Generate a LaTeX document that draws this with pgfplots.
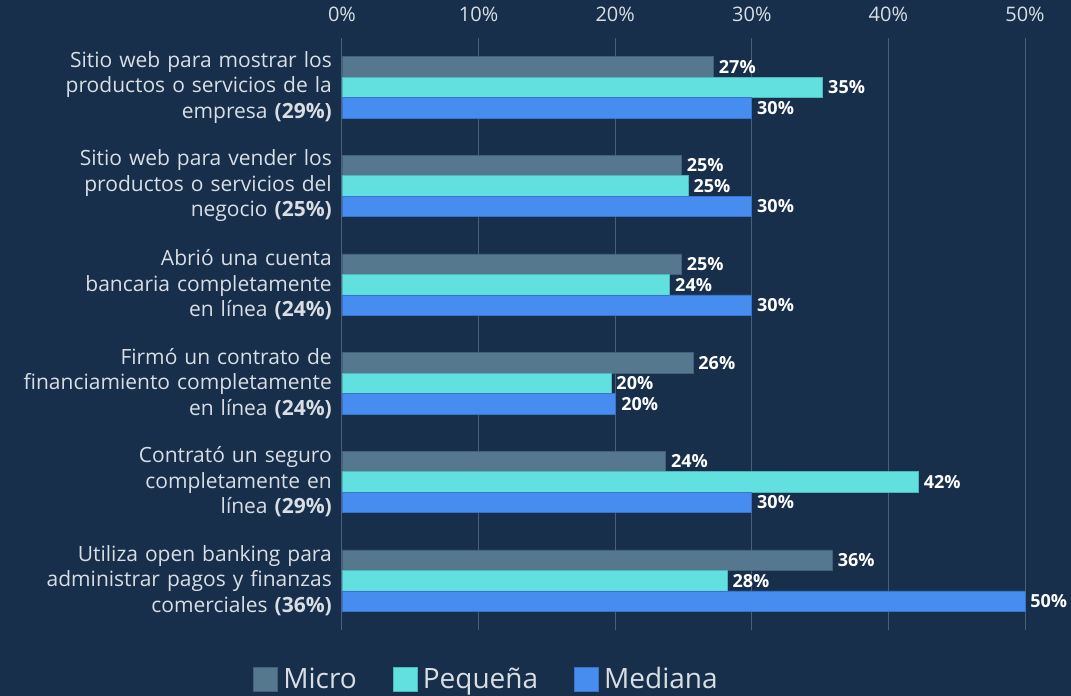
\documentclass[border=0pt]{standalone}
\usepackage{fontspec}
\setmainfont{Open Sans}
\usepackage{pgfplots}
\pgfplotsset{compat=1.18}

\definecolor{bg}{HTML}{172F4B}
\definecolor{gridc}{HTML}{4A5F77}
\definecolor{lbl}{HTML}{D9DEE4}
\definecolor{micro}{HTML}{56788E}
\definecolor{microedge}{HTML}{43627A}
\definecolor{peq}{HTML}{62E0E0}
\definecolor{peqedge}{HTML}{4CB6BC}
\definecolor{med}{HTML}{478DF0}
\definecolor{mededge}{HTML}{3A74C6}

\begin{document}
\begin{tikzpicture}
\path[use as bounding box, fill=bg] (-342pt,-66pt) rectangle (729pt,630pt);
\begin{axis}[
  at={(0,0)}, anchor=south west,
  scale only axis, width=683pt, height=592pt,
  xbar, bar width=20.5pt, clip=false,
  xmin=0, xmax=50, ymin=0.5, ymax=6.5,
  xtick={0,10,...,50},
  xticklabels={0\%,10\%,20\%,30\%,40\%,50\%},
  xticklabel pos=upper,
  xticklabel style={font=\fontsize{20}{22}\selectfont, text=lbl, anchor=base, inner sep=0pt, yshift=16pt},
  ytick={1,...,6},
  yticklabels={
    {Utiliza open banking para\\administrar pagos y finanzas\\comerciales \textbf{(36\%)}},
    {Contrató un seguro\\completamente en\\línea \textbf{(29\%)}},
    {Firmó un contrato de\\financiamiento completamente\\en línea \textbf{(24\%)}},
    {Abrió una cuenta\\bancaria completamente\\en línea \textbf{(24\%)}},
    {Sitio web para vender los\\productos o servicios del\\negocio \textbf{(25\%)}},
    {Sitio web para mostrar los\\productos o servicios de la\\empresa \textbf{(29\%)}}},
  yticklabel style={font=\fontsize{21}{25.5}\selectfont, text=lbl, text width=320pt, align=right, anchor=east, inner sep=0pt, xshift=-10pt},
  axis line style={draw=none},
  major tick length=0pt,
  xmajorgrids, grid style={gridc, line width=1pt},
  point meta=x,
  /pgf/number format/assume math mode=true,
  nodes near coords={\pgfmathprintnumber[fixed,precision=0]{\pgfplotspointmeta}\%},
  nodes near coords style={font=\bfseries\fontsize{18}{20}\selectfont, text=white, anchor=west, inner sep=0pt, xshift=5pt},
  legend style={at={(0.2116,-0.0828)}, anchor=center, draw=none, fill=none,
    font=\fontsize{28}{30}\selectfont, text=lbl,
    /tikz/every odd column/.append style={column sep=3pt},
    /tikz/every even column/.append style={column sep=34pt}},
  legend columns=-1,
  legend image code/.code={\draw[#1, line width=1pt] (0pt,-12pt) rectangle (24pt,12pt);},
]
\addplot[fill=micro, draw=microedge, line width=0.8pt, bar shift=20.5pt]
  coordinates {(35.9,1) (23.7,2) (25.7,3) (24.85,4) (24.85,5) (27.2,6)};
\addplot[fill=peq, draw=peqedge, line width=0.8pt, bar shift=0pt]
  coordinates {(28.2,1) (42.2,2) (19.7,3) (24.0,4) (25.35,5) (35.2,6)};
\addplot[fill=med, draw=mededge, line width=0.8pt, bar shift=-20.5pt]
  coordinates {(50,1) (30,2) (20.05,3) (30,4) (30,5) (30,6)};
\legend{Micro,Pequeña,Mediana}
\end{axis}
\end{tikzpicture}
\end{document}
